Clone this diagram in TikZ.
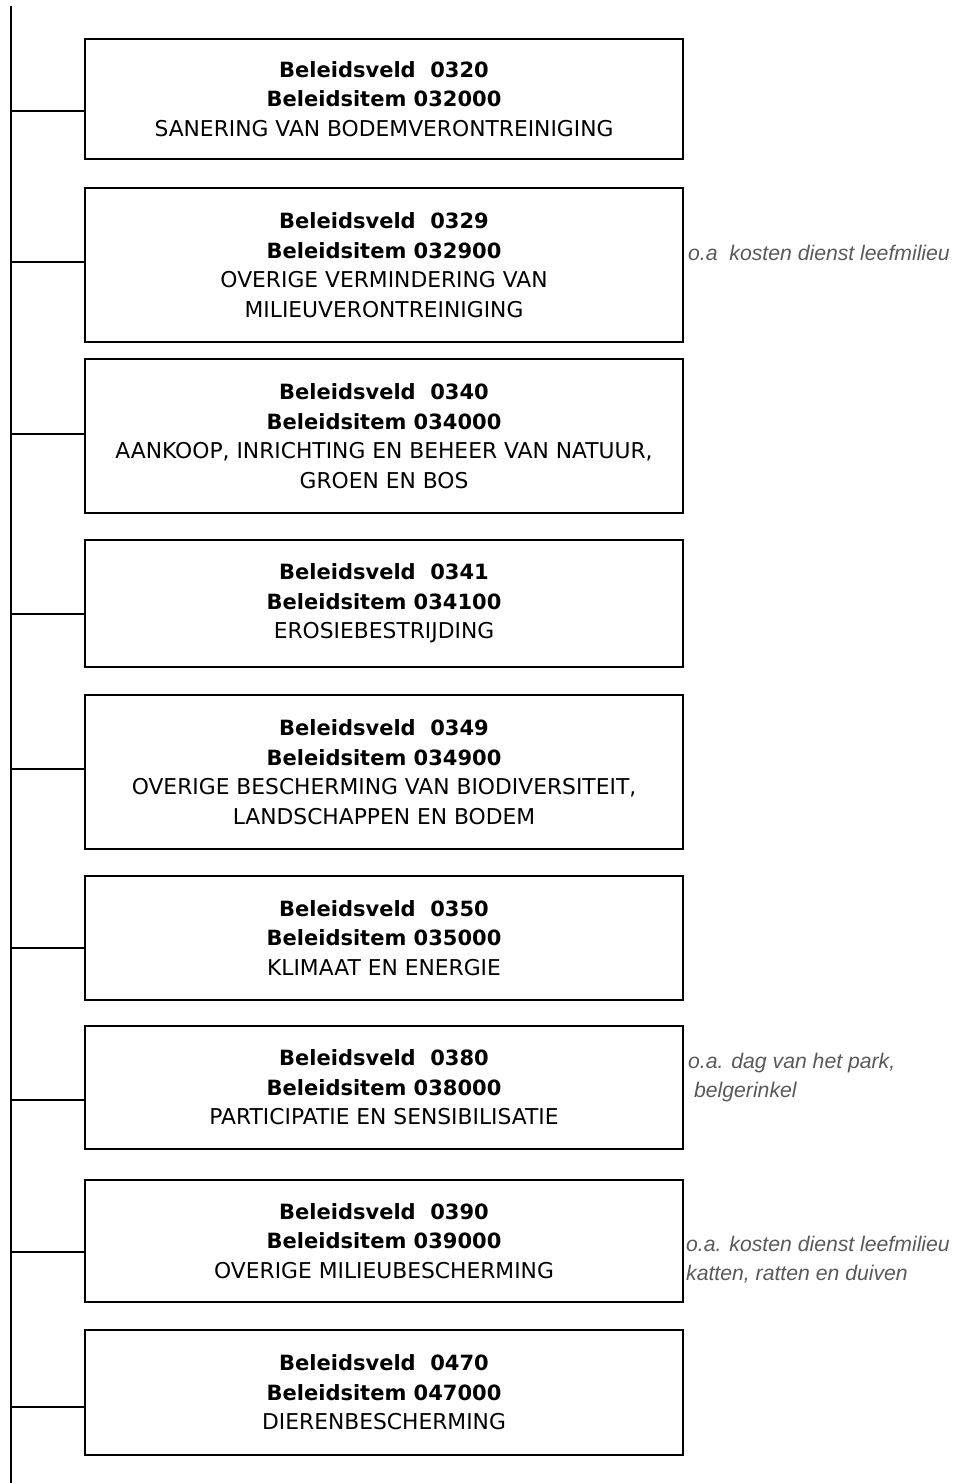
\documentclass[tikz,border=0pt]{standalone}
\usepackage{fontspec}
\setmainfont{DejaVu Sans}
\newfontfamily\notefont{Liberation Sans}
\newcommand{\hd}[1]{{\fontsize{21}{29.5}\selectfont\bfseries #1}}
\begin{document}
\begin{tikzpicture}[
    x=1pt, y=-1pt,
    item/.style={draw, line width=1.6pt, align=center, inner sep=0pt,
                 minimum width=598pt, font=\fontsize{21.8}{29.5}\selectfont},
    note/.style={anchor=west, align=left, inner sep=0pt, text=black!65,
                 font=\notefont\itshape\fontsize{21.2}{29}\selectfont},
    link/.style={line width=1.6pt}
  ]
    \useasboundingbox (0,0) rectangle (961,1483);

    \node[item, minimum height=120pt] (b320) at (384,  99)  {\hd{Beleidsveld\ \ 0320}\\\hd{Beleidsitem 032000}\\
                                       SANERING VAN BODEMVERONTREINIGING};
    \node[item, minimum height=154pt] (b329) at (384, 265)  {\hd{Beleidsveld\ \ 0329}\\\hd{Beleidsitem 032900}\\
                                       OVERIGE VERMINDERING VAN\\MILIEUVERONTREINIGING};
    \node[item, minimum height=154pt] (b340) at (384, 436)  {\hd{Beleidsveld\ \ 0340}\\\hd{Beleidsitem 034000}\\
                                       AANKOOP, INRICHTING EN BEHEER VAN NATUUR,\\GROEN EN BOS};
    \node[item, minimum height=127pt] (b341) at (384, 603.5){\hd{Beleidsveld\ \ 0341}\\\hd{Beleidsitem 034100}\\
                                       EROSIEBESTRIJDING};
    \node[item, minimum height=154pt] (b349) at (384, 772)  {\hd{Beleidsveld\ \ 0349}\\\hd{Beleidsitem 034900}\\
                                       OVERIGE BESCHERMING VAN BIODIVERSITEIT,\\LANDSCHAPPEN EN BODEM};
    \node[item, minimum height=124pt] (b350) at (384, 938)  {\hd{Beleidsveld\ \ 0350}\\\hd{Beleidsitem 035000}\\
                                       KLIMAAT EN ENERGIE};
    \node[item, minimum height=123pt] (b380) at (384,1087.5){\hd{Beleidsveld\ \ 0380}\\\hd{Beleidsitem 038000}\\
                                       PARTICIPATIE EN SENSIBILISATIE};
    \node[item, minimum height=122pt] (b390) at (384,1241)  {\hd{Beleidsveld\ \ 0390}\\\hd{Beleidsitem 039000}\\
                                       OVERIGE MILIEUBESCHERMING};
    \node[item, minimum height=125pt] (b470) at (384,1392.5){\hd{Beleidsveld\ \ 0470}\\\hd{Beleidsitem 047000}\\
                                       DIERENBESCHERMING};

    % side notes
    \node[note] (n329) at (688, 253)  {o.a\ \ kosten dienst leefmilieu};
    \node[note] (n380) at (688,1078)  {o.a. dag van het park,\\\ belgerinkel};
    \node[note] (n390) at (686,1260)  {o.a. kosten dienst leefmilieu\\katten, ratten en duiven};

    % trunk and branches
    \coordinate (top) at (11,6);
    \coordinate (bot) at (11,1483);
    \draw[link] (top) -- (bot);
    \foreach \b/\y in {b320/111, b329/262, b340/434, b341/614, b349/769,
                       b350/948, b380/1100, b390/1252, b470/1407}
      \draw[link] (11,\y) -- (\b.west |- 0,\y);
  \end{tikzpicture}
\end{document}
